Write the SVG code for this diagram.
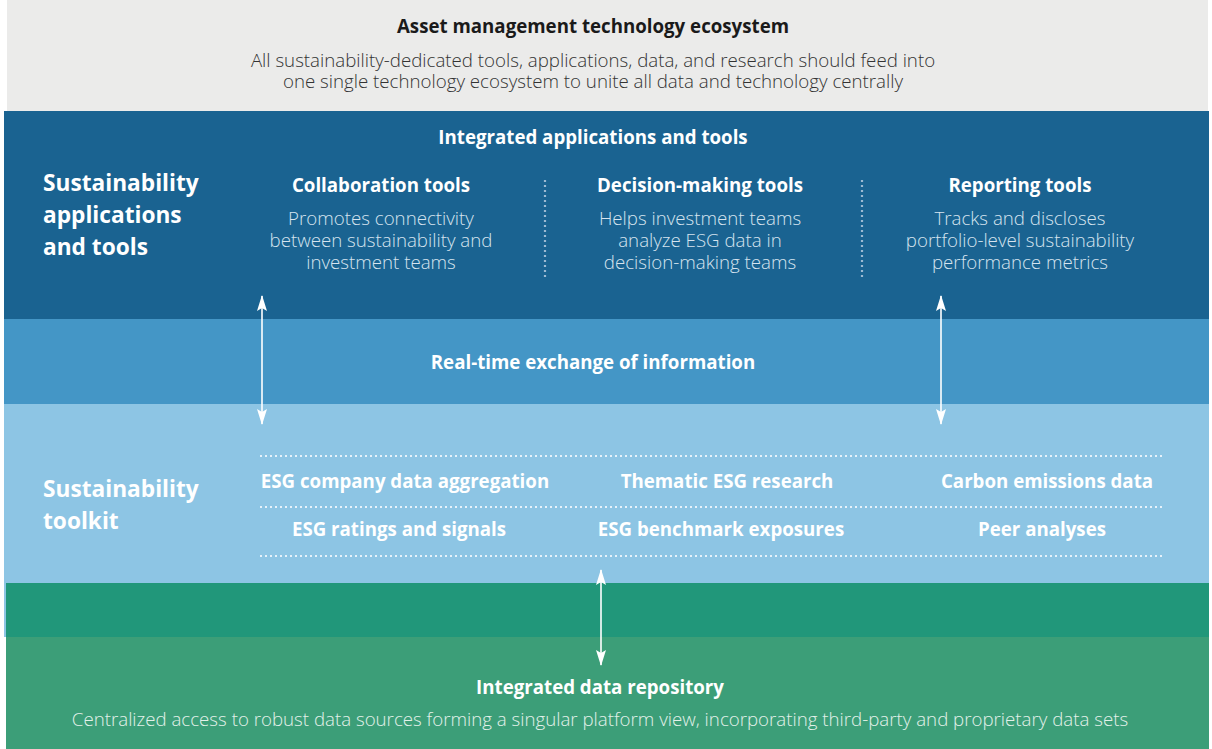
<svg xmlns="http://www.w3.org/2000/svg" width="1212" height="749" viewBox="0 0 1212 749">
<style>
text{font-family:"Open Sans","Liberation Sans",sans-serif;}
.b{font-weight:700;fill:#ffffff;}
.l{font-weight:300;}
.h{font-size:18.7px;}
.d{font-size:18.7px;fill:#d6e4ef;}
.big{font-size:22.7px;}
.c{text-anchor:middle;}
.dotv{stroke:#9dbbd3;stroke-width:2.2;stroke-dasharray:2 3;fill:none;}
.doth{stroke:#e6f2fa;stroke-width:2;stroke-dasharray:2 3;fill:none;}
.arr{stroke:#ffffff;stroke-width:1.6;fill:none;marker-start:url(#ah);marker-end:url(#ah);}
</style>
<defs>
<marker id="ah" viewBox="0 0 16 10" refX="15" refY="5" markerWidth="16" markerHeight="10" markerUnits="userSpaceOnUse" orient="auto-start-reverse">
<path d="M0,0 L16,5 L0,10 L3,5 Z" fill="#ffffff"/>
</marker>
</defs>
<rect width="1212" height="749" fill="#ffffff"/>

<g id="ecosystem">
<rect x="7" y="0" width="1201" height="111" fill="#ebebea"/>
<text x="593" y="33" class="c h" style="font-weight:700;fill:#1a1a1a">Asset management technology ecosystem</text>
<text class="c l" style="font-size:18.7px;fill:#333333"><tspan x="593" y="67">All sustainability-dedicated tools, applications, data, and research should feed into</tspan><tspan x="593" y="88">one single technology ecosystem to unite all data and technology centrally</tspan></text>
</g>

<g id="applications">
<rect x="4" y="111" width="1205" height="208" fill="#1a6391"/>
<text x="593" y="144" class="b c h">Integrated applications and tools</text>
<text class="b big"><tspan x="43" y="191">Sustainability</tspan><tspan x="43" y="223">applications</tspan><tspan x="43" y="255">and tools</tspan></text>
<line x1="545" y1="180" x2="545" y2="277" class="dotv"/>
<line x1="862" y1="180" x2="862" y2="277" class="dotv"/>
</g>

<g id="collaboration">
<text x="381" y="192" class="b c h">Collaboration tools</text>
<text class="l c d"><tspan x="381" y="225">Promotes connectivity</tspan><tspan x="381" y="247">between sustainability and</tspan><tspan x="381" y="269">investment teams</tspan></text>
</g>

<g id="decision">
<text x="700" y="192" class="b c h">Decision-making tools</text>
<text class="l c d"><tspan x="700" y="225">Helps investment teams</tspan><tspan x="700" y="247">analyze ESG data in</tspan><tspan x="700" y="269">decision-making teams</tspan></text>
</g>

<g id="reporting">
<text x="1020" y="192" class="b c h">Reporting tools</text>
<text class="l c d"><tspan x="1020" y="225">Tracks and discloses</tspan><tspan x="1020" y="247">portfolio-level sustainability</tspan><tspan x="1020" y="269">performance metrics</tspan></text>
</g>

<g id="exchange">
<rect x="4" y="319" width="1205" height="85" fill="#4496c6"/>
<text x="593" y="369" class="b c h">Real-time exchange of information</text>
</g>

<g id="toolkit">
<rect x="4" y="404" width="1205" height="179" fill="#8dc5e4"/>
<rect x="4" y="583" width="2" height="54" fill="#8dc5e4"/>
<text class="b big"><tspan x="43" y="497">Sustainability</tspan><tspan x="43" y="529">toolkit</tspan></text>
<line x1="260" y1="456" x2="1164" y2="456" class="doth"/>
<line x1="260" y1="507" x2="1164" y2="507" class="doth"/>
<line x1="260" y1="556" x2="1164" y2="556" class="doth"/>
</g>

<g id="item-aggregation"><text x="405" y="488" class="b c h">ESG company data aggregation</text></g>
<g id="item-thematic"><text x="727" y="488" class="b c h">Thematic ESG research</text></g>
<g id="item-carbon"><text x="1047" y="488" class="b c h">Carbon emissions data</text></g>
<g id="item-ratings"><text x="399" y="536" class="b c h">ESG ratings and signals</text></g>
<g id="item-benchmark"><text x="721" y="536" class="b c h">ESG benchmark exposures</text></g>
<g id="item-peer"><text x="1042" y="536" class="b c h">Peer analyses</text></g>

<g id="repository">
<rect x="6" y="583" width="1203" height="54" fill="#21977a"/>
<rect x="6" y="637" width="1203" height="112" fill="#3c9e78"/>
<text x="600" y="694" class="b c h">Integrated data repository</text>
<text x="600" y="726" class="l c" style="font-size:18.7px;fill:#e3f1ea">Centralized access to robust data sources forming a singular platform view, incorporating third-party and proprietary data sets</text>
</g>

<g id="connectors">
<line x1="262" y1="296" x2="262" y2="424" class="arr"/>
<line x1="941" y1="296" x2="941" y2="424" class="arr"/>
<line x1="601" y1="570" x2="601" y2="665" class="arr"/>
</g>
</svg>
